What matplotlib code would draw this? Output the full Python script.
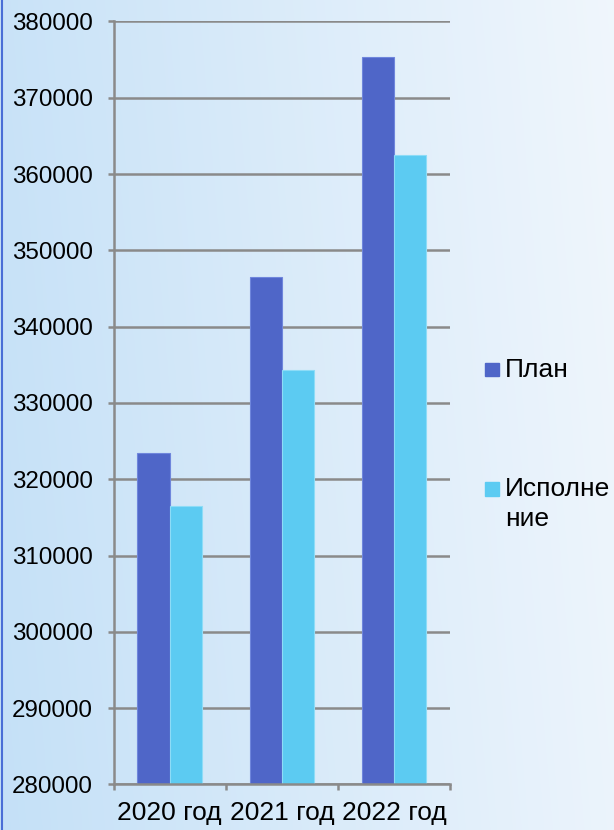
import matplotlib
matplotlib.use("Agg")
import matplotlib.pyplot as plt
import numpy as np
from matplotlib.patches import Rectangle

plt.rcParams["font.family"] = ["Liberation Sans", "DejaVu Sans"]

categories = ["2020 год", "2021 год", "2022 год"]
series_names = ["План", "Исполнение"]
legend_labels = ["План", "Исполне\nние"]
plan = [323400, 346450, 375300]
fact = [316450, 334350, 362550]
y_ticks = list(range(280000, 380001, 10000))

PLAN_COLOR = "#4f66c8"
FACT_COLOR = "#5ccbf2"
GRID_COLOR = "#8a8a8a"

fig = plt.figure(figsize=(6.14, 8.30), dpi=100)

# background gradient
bg = fig.add_axes([0, 0, 1, 1], zorder=-10)
xs = np.linspace(0, 1, 300)
ys = np.linspace(0, 1, 300)
X, Y = np.meshgrid(xs, ys)
t = np.clip(X * 0.85 + (1 - Y) * 0.1, 0, 1)
left = np.array([0.77, 0.88, 0.97])
right = np.array([0.95, 0.97, 0.99])
img = left[None, None, :] * (1 - t[..., None]) + right[None, None, :] * t[..., None]
bg.imshow(img, extent=[0, 1, 0, 1], aspect="auto", origin="upper")
bg.plot([0.004, 0.004], [0, 1], color="#4a6ed6", linewidth=1.5)
bg.set_xlim(0, 1)
bg.set_ylim(0, 1)
bg.axis("off")

ax = fig.add_axes([0.1849, 0.0549, 0.5483, 0.9193])
ax.patch.set_alpha(0)

x = np.arange(len(categories))
w = 0.287
ax.bar(x - w / 2, plan, width=w, color=PLAN_COLOR, edgecolor="#6f86dc",
       linewidth=0.8, zorder=3)
ax.bar(x + w / 2, fact, width=w, color=FACT_COLOR, edgecolor="#8ddcf7",
       linewidth=0.8, zorder=3)

ax.set_ylim(280000, 380000)
ax.set_xlim(-0.5, len(categories) - 0.5)
ax.set_yticks(y_ticks)
ax.set_yticklabels([str(v) for v in y_ticks], fontsize=17.4)
ax.set_xticks(x)
ax.set_xticklabels(categories, fontsize=19)
ax.set_xticks(np.arange(-0.5, len(categories)), minor=True)

ax.yaxis.grid(True, color=GRID_COLOR, linewidth=1.8, zorder=1)
ax.set_axisbelow(True)
ax.tick_params(axis="y", length=4.3, width=1.8, color=GRID_COLOR, pad=10.5)
ax.tick_params(axis="x", which="major", length=0, pad=12)
ax.tick_params(axis="x", which="minor", length=4.3, width=1.8, color=GRID_COLOR)

for side in ["top", "right"]:
    ax.spines[side].set_visible(False)
for side in ["left", "bottom"]:
    ax.spines[side].set_color(GRID_COLOR)
    ax.spines[side].set_linewidth(1.8)
    ax.spines[side].set_zorder(4)

# legend drawn in figure pixels
W, H = 614, 830
for (label, color, y_top) in zip(legend_labels, [PLAN_COLOR, FACT_COLOR], [363, 482]):
    fig.patches.append(Rectangle((485 / W, 1 - (y_top + 13.5) / H), 13.5 / W, 13.5 / H,
                                 transform=fig.transFigure, color=color))
    fig.text(505 / W, 1 - (y_top - 5) / H, label, fontsize=19, va="top", ha="left",
             linespacing=1.3)

fig.savefig("out.png", dpi=100)
